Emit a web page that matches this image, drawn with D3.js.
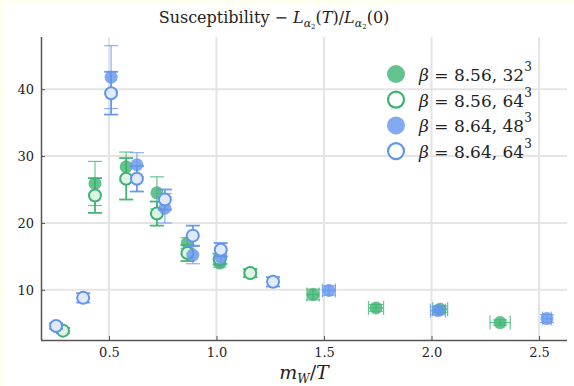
<!DOCTYPE html>
<html>
<head>
<meta charset="utf-8">
<script src="https://cdn.jsdelivr.net/npm/d3@7"></script>
<style>
  body { margin: 0; background: #fffff2; }
  svg { display: block; }
  text { font-family: "DejaVu Serif", serif; fill: #222; }
</style>
</head>
<body>
<div id="chart"></div>
<script>
// data
const g32_x  = [0.435, 0.58, 0.723, 0.865, 1.015, 1.157, 1.449, 1.742, 2.04, 2.319];
const g32_y  = [25.9, 28.4, 24.5, 17.0, 14.0, 12.5, 9.3, 7.3, 7.1, 5.1];
const g32_ye = [3.3, 2.2, 2.4, 0.8, 0.6, 0.6, 0.8, 0.5, 0.5, 0.4];
const g32_xe = [0, 0, 0, 0, 0, 0, 0.028, 0.035, 0.035, 0.047];

const g64_x  = [0.286, 0.435, 0.58, 0.723, 0.865, 1.015, 1.157];
const g64_y  = [3.9, 24.1, 26.6, 21.4, 15.5, 14.6, 12.5];
const g64_ye = [0.4, 2.6, 3.1, 1.8, 1.2, 0.8, 0.6];

const b48_x  = [0.51, 0.63, 0.76, 0.89, 1.02, 1.523, 2.03, 2.537];
const b48_y  = [41.8, 28.7, 22.2, 15.2, 14.9, 9.9, 6.9, 5.7];
const b48_ye = [4.7, 1.8, 2.2, 1.3, 1.0, 0.7, 0.6, 0.6];
const b48_xe = [0, 0, 0, 0, 0, 0.03, 0.035, 0.02];

const b64_x  = [0.254, 0.38, 0.51, 0.63, 0.76, 0.89, 1.02, 1.263];
const b64_y  = [4.6, 8.8, 39.4, 26.6, 23.5, 18.1, 16.0, 11.2];
const b64_ye = [0.4, 0.7, 3.2, 1.9, 1.5, 1.5, 1.0, 0.7];

const xTicks = [0.5, 1.0, 1.5, 2.0, 2.5];
const yTicks = [10, 20, 30, 40];
const legendLabels = [["8.56", "32"], ["8.56", "64"], ["8.64", "48"], ["8.64", "64"]];

const green = "#3cb371", blue = "#6495ed";
const serif = "'DejaVu Serif', serif";

const W = 574, H = 386;
const svg = d3.select("#chart").append("svg").attr("width", W).attr("height", H);
svg.append("rect").attr("x", 6).attr("y", 6).attr("width", W - 6).attr("height", H - 6).attr("fill", "#fff");

const pLeft = 41, pRight = 567, pTop = 37, pBottom = 340;
const x = d3.scaleLinear().domain([0.184, 2.63]).range([pLeft, pRight]);
const y = d3.scaleLinear().domain([2.5, 47.8]).range([pBottom, pTop]);

// grid
svg.selectAll(".gx").data(xTicks).enter().append("line")
  .attr("x1", d => x(d)).attr("x2", d => x(d)).attr("y1", pTop).attr("y2", pBottom)
  .style("stroke", "#e4e4e4").style("stroke-width", 2);
svg.selectAll(".gy").data(yTicks).enter().append("line")
  .attr("x1", pLeft).attr("x2", pRight).attr("y1", d => y(d)).attr("y2", d => y(d))
  .style("stroke", "#e4e4e4").style("stroke-width", 2);

// axes
const xAxis = svg.append("g").attr("transform", `translate(0,${pBottom})`)
  .call(d3.axisBottom(x).tickValues(xTicks).tickFormat(d3.format(".1f")).tickSizeInner(-4).tickSizeOuter(0).tickPadding(8));
const yAxis = svg.append("g").attr("transform", `translate(${pLeft},0)`)
  .call(d3.axisLeft(y).tickValues(yTicks).tickSizeInner(-4).tickSizeOuter(0).tickPadding(7));
[xAxis, yAxis].forEach(a => {
  a.attr("font-family", null);
  a.select(".domain").style("stroke", "#555").style("stroke-width", 1.5);
  a.selectAll(".tick line").style("stroke", "#555");
  a.selectAll("text").style("font-family", serif).style("font-size", "13px").style("fill", "#222");
});
yAxis.select(".domain").attr("d", `M0.5,${pBottom}V${pTop}`);
xAxis.select(".domain").attr("d", `M${pLeft},0.5H${pRight}`);

function drawSeries(xs, ys, yes, xes, color, open) {
  const pts = xs.map((v, i) => ({ x: v, y: ys[i], ye: yes[i], xe: xes ? xes[i] : 0 }));
  const g = svg.append("g");
  const sw = open ? 1.8 : 1.2;
  const op = open ? 0.95 : 0.75;
  const cap = 7;
  pts.forEach(p => {
    const cx = x(p.x), cy = y(p.y);
    const y1 = y(p.y + p.ye), y2 = y(p.y - p.ye);
    g.append("line").attr("x1", cx).attr("x2", cx).attr("y1", y1).attr("y2", y2)
      .style("stroke", color).style("stroke-width", sw).style("opacity", op);
    [y1, y2].forEach(yy => g.append("line").attr("x1", cx - cap).attr("x2", cx + cap).attr("y1", yy).attr("y2", yy)
      .style("stroke", color).style("stroke-width", sw).style("opacity", op));
    if (p.xe > 0) {
      const x1 = x(p.x - p.xe), x2 = x(p.x + p.xe);
      g.append("line").attr("x1", x1).attr("x2", x2).attr("y1", cy).attr("y2", cy)
        .style("stroke", color).style("stroke-width", sw).style("opacity", op);
      [x1, x2].forEach(xx => g.append("line").attr("x1", xx).attr("x2", xx).attr("y1", cy - cap).attr("y2", cy + cap)
        .style("stroke", color).style("stroke-width", sw).style("opacity", op));
    }
  });
  g.selectAll("circle").data(pts).enter().append("circle")
    .attr("cx", d => x(d.x)).attr("cy", d => y(d.y))
    .attr("r", open ? 6 : 6.5)
    .style("fill", open ? (color === green ? "#dff2e6" : "#e1eafb") : color)
    .style("fill-opacity", open ? 1 : 0.8)
    .style("stroke", open ? color : "none")
    .style("stroke-width", 2);
}

drawSeries(g32_x, g32_y, g32_ye, g32_xe, green, false);
drawSeries(g64_x, g64_y, g64_ye, null, green, true);
drawSeries(b48_x, b48_y, b48_ye, b48_xe, blue, false);
drawSeries(b64_x, b64_y, b64_ye, null, blue, true);

// title
const title = svg.append("text").attr("x", 274).attr("y", 23).attr("text-anchor", "middle")
  .style("font-family", serif).style("font-size", "16px");
title.append("tspan").text("Susceptibility \u2212 ");
title.append("tspan").style("font-style", "italic").text("L");
title.append("tspan").attr("dy", 4).style("font-size", "11px").style("font-style", "italic").text("\u03b1");
title.append("tspan").attr("dy", 2).style("font-size", "7px").text("2");
title.append("tspan").attr("dy", -6).text("(");
title.append("tspan").style("font-style", "italic").text("T");
title.append("tspan").text(")/");
title.append("tspan").style("font-style", "italic").text("L");
title.append("tspan").attr("dy", 4).style("font-size", "11px").style("font-style", "italic").text("\u03b1");
title.append("tspan").attr("dy", 2).style("font-size", "7px").text("2");
title.append("tspan").attr("dy", -6).text("(0)");

// x label
const xl = svg.append("text").attr("x", 304).attr("y", 379).attr("text-anchor", "middle")
  .style("font-family", serif).style("font-size", "19px");
xl.append("tspan").style("font-style", "italic").text("m");
xl.append("tspan").attr("dy", 4).style("font-size", "12px").style("font-style", "italic").text("W");
xl.append("tspan").attr("dy", -4).text("/");
xl.append("tspan").style("font-style", "italic").text("T");

// legend
const legColors = [green, green, blue, blue];
const legOpen = [false, true, false, true];
legendLabels.forEach((lab, i) => {
  const ly = 74 + i * 25.7;
  svg.append("circle").attr("cx", 396).attr("cy", ly).attr("r", legOpen[i] ? 8 : 9)
    .style("fill", legOpen[i] ? "#fff" : legColors[i]).style("fill-opacity", legOpen[i] ? 1 : 0.8)
    .style("stroke", legOpen[i] ? legColors[i] : "none").style("stroke-width", 2.2);
  const t = svg.append("text").attr("x", 419).attr("y", ly + 7)
    .style("font-family", serif).style("font-size", "17px");
  t.append("tspan").style("font-style", "italic").text("\u03b2");
  t.append("tspan").text(" = " + lab[0] + ", " + lab[1]);
  t.append("tspan").attr("dy", -10).style("font-size", "12px").text("3");
});
</script>
</body>
</html>
